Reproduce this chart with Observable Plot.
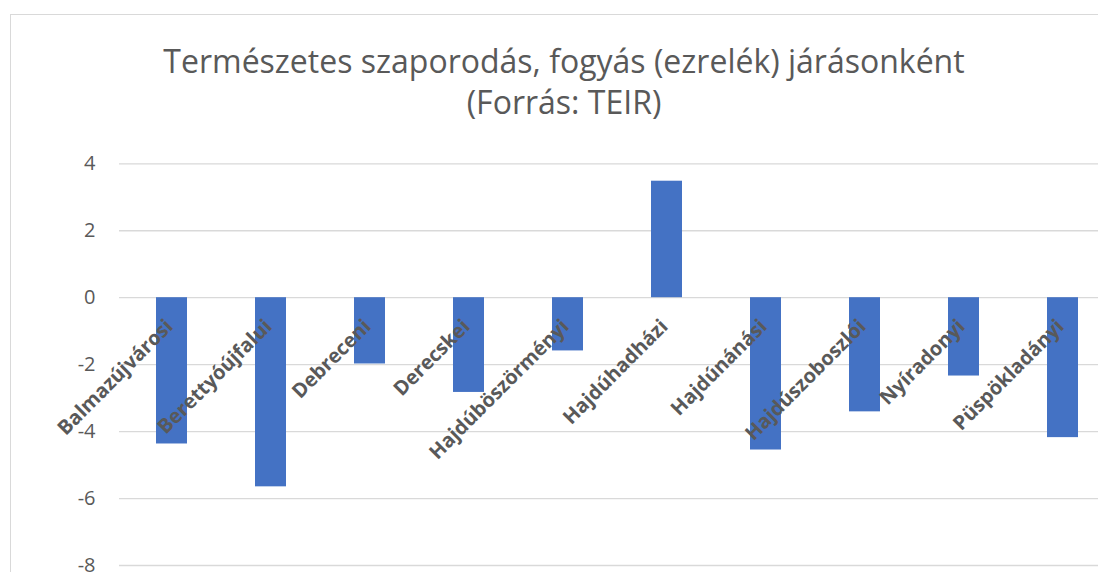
<!DOCTYPE html>
<html>
<head>
<meta charset="utf-8">
<script src="https://cdn.jsdelivr.net/npm/d3@7"></script>
<script src="https://cdn.jsdelivr.net/npm/@observablehq/plot@0.6"></script>
<style>
  html, body { margin: 0; padding: 0; background: #fff; overflow: hidden; width: 1098px; height: 572px; position: relative; }
  #frame { position: absolute; left: 10px; top: 14px; width: 1200px; height: 700px; border: 1px solid #d9d9d9; box-sizing: border-box; }
  #title { position: absolute; left: 10px; top: 40px; width: 1108px; text-align: center; font-family: "Open Sans", sans-serif; font-size: 32px; line-height: 41px; color: #595959; }
  #chart { position: absolute; left: 0; top: 0; width: 1130px; }
  #chart svg { max-width: none !important; }
</style>
</head>
<body>
<div id="frame"></div>
<div id="title">Természetes szaporodás, fogyás (ezrelék) járásonként<br>(Forrás: TEIR)</div>
<div id="chart"></div>
<script>
const categories = ["Balmazújvárosi", "Berettyóújfalui", "Debreceni", "Derecskei", "Hajdúböszörményi", "Hajdúhadházi", "Hajdúnánási", "Hajdúszoboszlói", "Nyíradonyi", "Püspökladányi"];
const values = [-4.37, -5.65, -1.98, -2.83, -1.59, 3.48, -4.55, -3.41, -2.34, -4.18];
const yTicks = [-8, -6, -4, -2, 0, 2, 4];

const data = categories.map((c, i) => ({category: c, value: values[i]}));

const chart = Plot.plot({
  width: 1130,
  height: 572,
  marginLeft: 119,
  marginRight: 15.5,
  marginTop: 163.3,
  marginBottom: 7,
  style: {background: "transparent", fontFamily: "'Open Sans', sans-serif", maxWidth: "none"},
  x: {domain: categories, paddingInner: 0.69, paddingOuter: 0.345, axis: null},
  y: {domain: [-8, 4], axis: null},
  marks: [
    Plot.gridY(yTicks, {stroke: "#d9d9d9", strokeOpacity: 1, strokeWidth: 1.3}),
    Plot.axisY(yTicks, {label: null, tickSize: 0, tickPadding: 24, fontSize: 20, fill: "#595959", tickFormat: d => String(d)}),
    Plot.barY(data, {x: "category", y: "value", fill: "#4472C4"}),
    Plot.text(data, {x: "category", y: d => 0, text: "category", rotate: -45, textAnchor: "end", lineAnchor: "top", dx: -8, dy: 20, fontSize: 20, fontWeight: "bold", fill: "#595959"})
  ]
});
document.getElementById("chart").appendChild(chart);
</script>
</body>
</html>
